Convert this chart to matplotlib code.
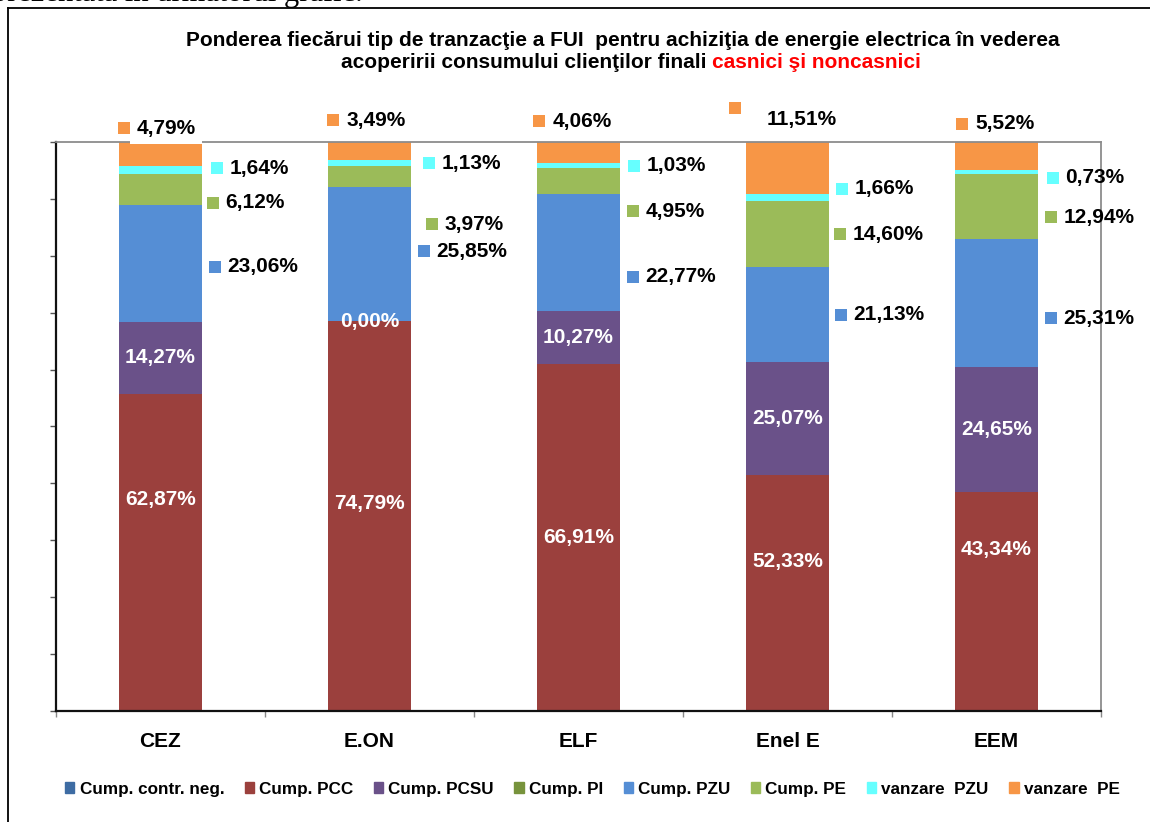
import matplotlib
matplotlib.use("Agg")
import matplotlib.pyplot as plt
import numpy as np
from matplotlib.lines import Line2D
from matplotlib.patches import Patch
from matplotlib.transforms import offset_copy

plt.rcParams["font.family"] = ["Liberation Sans", "DejaVu Sans"]
plt.rcParams["font.weight"] = "bold"

# date: ponderea fiecarui tip de tranzactie (valori afisate, in %)
categories = ["CEZ", "E.ON", "ELF", "Enel E", "EEM"]
series_names = ["Cump. contr. neg.", "Cump. PCC", "Cump. PCSU", "Cump. PI",
                "Cump. PZU", "Cump. PE", "vanzare  PZU", "vanzare  PE"]
contr_neg = [0.0, 0.0, 0.20, 0.0, 0.0]
pcc = [62.87, 74.79, 66.91, 52.33, 43.34]
pcsu = [14.27, 0.00, 10.27, 25.07, 24.65]
pi = [0.0, 0.0, 0.0, 0.0, 0.0]
pzu = [23.06, 25.85, 22.77, 21.13, 25.31]
pe = [6.12, 3.97, 4.95, 14.60, 12.94]
v_pzu = [1.64, 1.13, 1.03, 1.66, 0.73]
v_pe = [4.79, 3.49, 4.06, 11.51, 5.52]

colors = ["#3E6CA3", "#9B403D", "#6A5189", "#77933C",
          "#558ED5", "#9BBB59", "#66FFFF", "#F79646"]

# deplasari manuale ale etichetelor (pixeli, pozitiv = in sus)
pcc_dy = [53, 13, 0, 32, 52]
pcsu_dy = [0, 0, 0, 0, 0]
pzu_dy = [-3, 3, -24, 0, -15]
pe_dy = [-13, -48, -30, 0, -11]
vpzu_dy = [2, 0, 0, 9, -6]
vpe_dy = [26, 31, 31, 48, 32]
pzu_dx = [0, 0, 0, -1, 0]
pe_dx = [-2, 8, 0, -2, 0]
vpzu_dx = [2, 5, 1, 0, 2]
vpe_txt_dx = [-24, -23, -26, -21, -21]
vpe_key_dx = [-37, -37, -40, -53, -35]
vpe_key_dy = [0, 0, 0, 12, 0]

series = [contr_neg, pcc, pcsu, pi, pzu, pe, v_pzu, v_pe]
vals = np.array(series, dtype=float)
totals = vals.sum(axis=0)
shares = vals / totals * 100  # grafic 100% stivuit

fig = plt.figure(figsize=(11.5, 8.22), dpi=100)
ax = fig.add_axes([56 / 1150, 1 - 711 / 822, 1045 / 1150, 569 / 822])

x = np.arange(len(categories))
width = 0.4
bottom = np.zeros(len(categories))
for name, sh, col in zip(series_names, shares, colors):
    ax.bar(x, sh, width, bottom=bottom, color=col, linewidth=0, label=name)
    bottom += sh
cum = np.cumsum(shares, axis=0)
centers = cum - shares / 2

ax.set_xlim(-0.5, len(categories) - 0.5)
ax.set_ylim(0, 100)
ax.set_yticks(np.arange(0, 101, 10))
ax.set_yticklabels([])
ax.tick_params(axis="y", direction="out", length=4.5, width=1, color="#555555")
ax.set_xticks(x)
ax.set_xticklabels(categories, fontsize=15, fontweight="bold")
ax.tick_params(axis="x", which="major", length=0, pad=15)
ax.set_xticks(np.arange(-0.5, len(categories)), minor=True)
ax.tick_params(axis="x", which="minor", direction="out", length=4.5, width=1, color="#888888")
for s in ("top", "right"):
    ax.spines[s].set_color("#8c8c8c")
    ax.spines[s].set_linewidth(1.3)
for s in ("left", "bottom"):
    ax.spines[s].set_color("#111111")
    ax.spines[s].set_linewidth(1.6)


def at(dx, dy):
    return offset_copy(ax.transData, fig=fig, x=dx, y=dy, units="dots")


def fmt(v):
    return f"{v:.2f}".replace(".", ",") + "%"


label_fs = 15
for i in range(len(categories)):
    # etichete albe in interiorul barei
    for k, dys in ((1, pcc_dy), (2, pcsu_dy)):
        ax.text(x[i], centers[k, i], fmt(series[k][i]), transform=at(0, dys[i]),
                ha="center", va="center", color="white", fontsize=label_fs, fontweight="bold")
    # etichete in dreapta barei, cu cheie de legenda
    right = x[i] + width / 2
    for k, dys, dxs in ((4, pzu_dy, pzu_dx), (5, pe_dy, pe_dx), (6, vpzu_dy, vpzu_dx)):
        ax.plot([right], [centers[k, i]], marker="s", ms=8, color=colors[k], mew=0,
                transform=at(13 + dxs[i], dys[i]), clip_on=False)
        ax.text(right, centers[k, i], fmt(series[k][i]), transform=at(25 + dxs[i], dys[i]),
                ha="left", va="center", color="black", fontsize=label_fs, fontweight="bold")
    # eticheta vanzare PE deasupra barei, cu fundal alb
    ax.text(x[i], centers[7, i], fmt(series[7][i]), transform=at(vpe_txt_dx[i], vpe_dy[i]),
            ha="left", va="center", color="black", fontsize=label_fs, fontweight="bold",
            bbox=dict(boxstyle="square,pad=0.3", fc="white", ec="none"), zorder=5)
    ax.plot([x[i]], [centers[7, i]], marker="s", ms=8, color=colors[7], mew=0,
            transform=at(vpe_key_dx[i], vpe_dy[i] + vpe_key_dy[i]), clip_on=False, zorder=6)

# titlu pe doua randuri, cu partea finala in rosu
title_fs = 15
fig.text(0.542, 1 - 40 / 822, "Ponderea fiecărui tip de tranzacţie a FUI  pentru achiziţia de energie electrica în vederea",
         ha="center", va="center", fontsize=title_fs, fontweight="bold")
t1 = fig.text(0, 1 - 62 / 822, "acoperirii consumului clienţilor finali ", ha="left", va="center",
              fontsize=title_fs, fontweight="bold")
t2 = fig.text(0, 1 - 62 / 822, "casnici şi noncasnici", ha="left", va="center",
              fontsize=title_fs, fontweight="bold", color="#FF0000")
r = fig.canvas.get_renderer()
w1 = t1.get_window_extent(r).width
w2 = t2.get_window_extent(r).width
x0 = 631 - (w1 + w2) / 2
t1.set_x(x0 / 1150)
t2.set_x((x0 + w1) / 1150)

# legenda
handles = [Patch(color=c) for c in colors]
fig.legend(handles, series_names, loc="center", bbox_to_anchor=(0.515, 1 - 789 / 822), ncol=8,
           frameon=False, fontsize=12.3, handlelength=0.55, handleheight=0.55,
           handletextpad=0.3, columnspacing=1.2, borderaxespad=0)

# chenarul graficului (taiat in dreapta si jos) si textul de deasupra, taiat
fig.add_artist(Line2D([8 / 1150, 8 / 1150], [0, 1 - 8 / 822], color="black", lw=1.3))
fig.add_artist(Line2D([8 / 1150, 1], [1 - 8 / 822, 1 - 8 / 822], color="black", lw=1.3))
fig.text(363 / 1150, 1 - 1 / 822, "prezentata in urmatorul grafic.", ha="right", va="baseline",
         fontsize=22, fontweight="normal", family="Liberation Serif")

fig.savefig("out.png", dpi=100)
